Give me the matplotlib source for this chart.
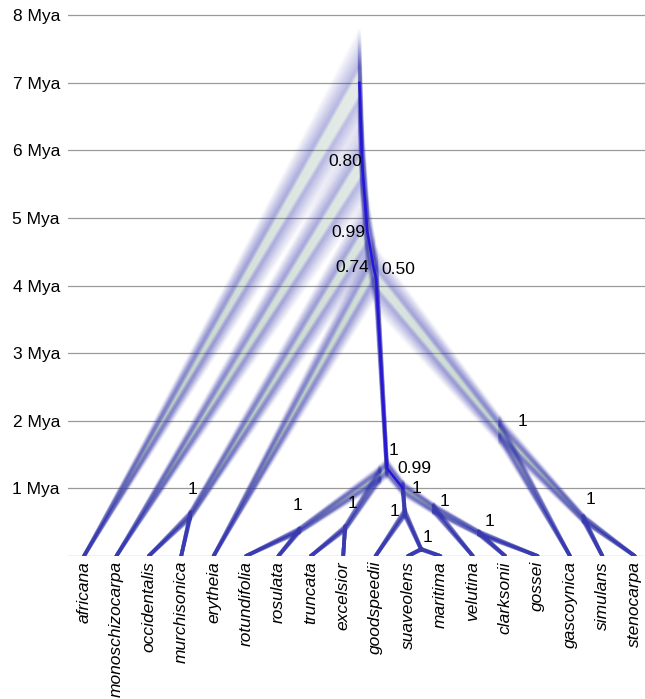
import numpy as np
import matplotlib.pyplot as plt
from matplotlib.collections import LineCollection
from matplotlib.colors import to_rgba

plt.rcParams['font.family'] = ['Liberation Sans', 'DejaVu Sans']

# tips, left to right
taxa = ["africana", "monoschizocarpa", "occidentalis", "murchisonica", "erytheia",
        "rotundifolia", "rosulata", "truncata", "excelsior", "goodspeedii",
        "suaveolens", "maritima", "velutina", "clarksonii", "gossei",
        "gascoynica", "simulans", "stenocarpa"]

# internal nodes: children, age (Mya) and posterior support
node_names = ["R", "A", "B", "OM", "C", "D", "E", "L", "RR", "TE",
              "M", "G", "SM", "V", "CG", "W", "SS"]
node_children = [("africana", "A"), ("monoschizocarpa", "B"), ("OM", "C"),
                 ("occidentalis", "murchisonica"), ("erytheia", "D"), ("E", "W"),
                 ("L", "M"), ("RR", "TE"), ("rotundifolia", "rosulata"),
                 ("truncata", "excelsior"), ("G", "V"), ("goodspeedii", "SM"),
                 ("suaveolens", "maritima"), ("velutina", "CG"), ("clarksonii", "gossei"),
                 ("gascoynica", "SS"), ("simulans", "stenocarpa")]
node_ages = [7.0, 5.8, 4.8, 0.6, 4.25, 4.1, 1.3, 1.2, 0.38, 0.41,
             1.0, 0.64, 0.1, 0.7, 0.34, 1.86, 0.55]
node_support = ["", "0.80", "0.99", "1", "0.74", "0.50", "1", "0.99", "1", "1",
                "1", "1", "1", "1", "1", "1", "1"]

# label offsets from the node, in pixels (right, up)
label_off = {"A": (-17, 2), "B": (-19, -1.5), "C": (-22, 1), "D": (22, 9),
             "OM": (2, 26), "E": (7, 18), "L": (35, 6), "M": (14, 0),
             "RR": (-2, 25), "TE": (7, 25), "G": (-10, 1), "SM": (6, 12),
             "V": (11, 7), "CG": (11, 12), "W": (23, 9), "SS": (7, 19)}

children = dict(zip(node_names, node_children))
age = dict(zip(node_names, node_ages))
for t in taxa:
    age[t] = 0.0


def leaves(n):
    if n not in children:
        return [taxa.index(n)]
    return leaves(children[n][0]) + leaves(children[n][1])


# a node sits on the line from its clade's tip centroid up to its parent
xpos = {"R": np.mean(leaves("R"))}
parent = {}
def place(n):
    for c in children.get(n, ()):
        parent[c] = n
        cen = np.mean(leaves(c))
        xpos[c] = cen + age[c] / age[n] * (xpos[n] - cen)
        place(c)
place("R")

edges = list(parent.items())

fig = plt.figure(figsize=(6.45, 6.99), dpi=100)
ax = fig.add_axes([68 / 645, (699 - 556) / 699, (645 - 68) / 645, (556 - 8.4) / 699])
ax.set_xlim(-0.494, 17.315)
ax.set_ylim(0, 8.1)

for k in range(0, 9):
    ax.axhline(k, color="#9a9a9a", lw=0.9, zorder=0)

# fuzzy cloud of trees: the same tree drawn with node ages stretched a little,
# greyish green in the middle, blue towards the edges, fading out at the rim
scales = np.linspace(0.89, 1.11, 57)
copies = []
for s in scales:
    d = abs(s - 1)
    if d < 0.03:
        copies.append((0, s, "#88aa98", 0.06))
    else:
        a = 0.10 * max(0.0, 1 - (d - 0.03) / 0.085) ** 1.3 + 0.008
        copies.append((1 / (a + 1e-3), s, "#3a3ab4", a))
copies.sort(key=lambda q: q[0])
segs, cols = [], []
for _, s, colour, a in copies:
    rgba = list(to_rgba(colour))
    rgba[3] = a
    for c, p in edges:
        segs.append([(xpos[c], s * age[c]), (xpos[p], s * age[p])])
        cols.append(rgba)
ax.add_collection(LineCollection(segs, colors=cols, linewidths=2.6, zorder=2,
                                 capstyle="round"))

# crisp root canal along the spine
spine = ["R", "A", "B", "C", "D", "E", "M"]
ax.plot([xpos[n] for n in spine], [age[n] for n in spine], color="#2a16d8", lw=1.9, zorder=3)

for n, sup in zip(node_names, node_support):
    if not sup:
        continue
    dx, dy = label_off[n]
    ax.annotate(sup, (xpos[n], age[n]), xytext=(dx * 0.72, dy * 0.72),
                textcoords="offset points", ha="center", va="center",
                fontsize=12.5, color="black", zorder=5)

for i, t in enumerate(taxa):
    ax.annotate(t, (i, 0), xytext=(0, -3.6), textcoords="offset points",
                rotation=90, ha="center", va="top", fontsize=12.5, style="italic",
                annotation_clip=False)

ax.set_yticks(range(1, 9))
ax.set_yticklabels([f"{k} Mya" for k in range(1, 9)], fontsize=12.5)
ax.tick_params(axis="y", length=0, pad=5.8)
ax.set_xticks([])
for sp in ax.spines.values():
    sp.set_visible(False)

fig.savefig("out.png", dpi=100)
